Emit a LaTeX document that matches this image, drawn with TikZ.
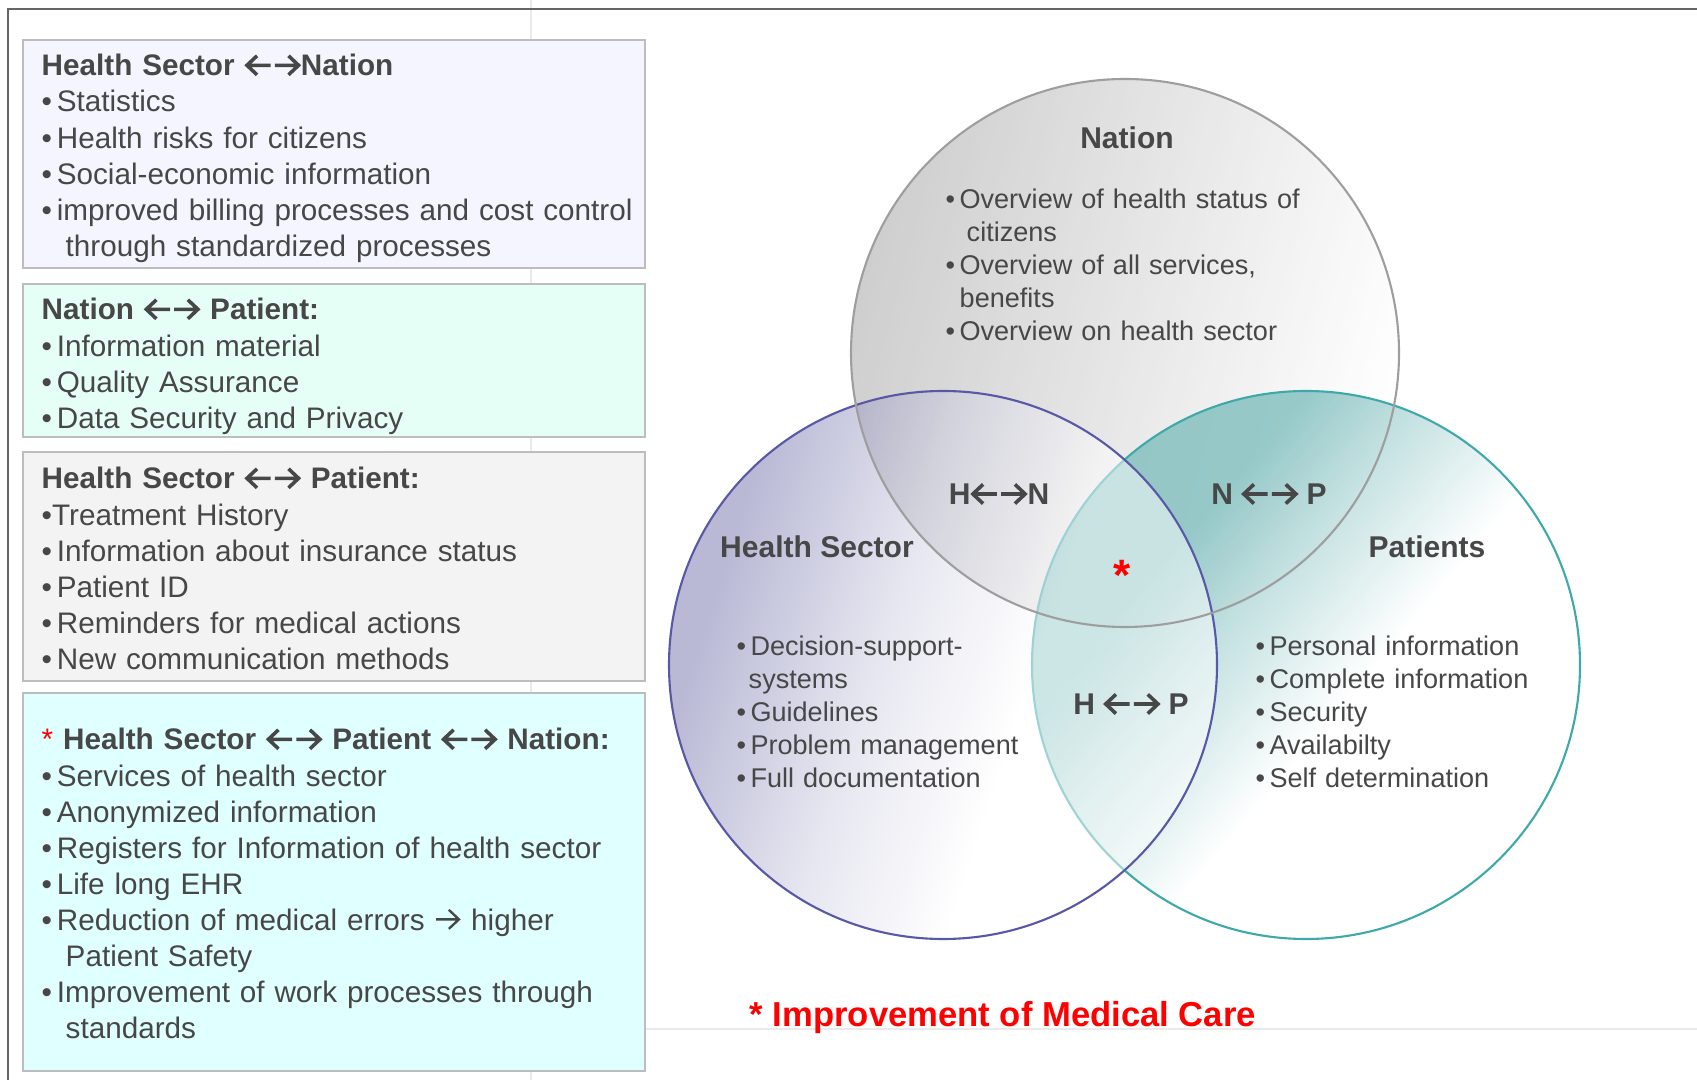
\documentclass[tikz,border=0pt]{standalone}
\usepackage{fontspec}
\setmainfont{Liberation Sans}
\definecolor{txt}{HTML}{474747}
\definecolor{framegray}{HTML}{666666}
\definecolor{boxgray}{HTML}{BDBDBD}
\definecolor{faint}{HTML}{EAEAEA}
\definecolor{lav}{HTML}{F5F5FF}
\definecolor{mint}{HTML}{E5FFF7}
\definecolor{pale}{HTML}{F3F3F3}
\definecolor{aqua}{HTML}{E0FFFF}
\definecolor{natfill}{HTML}{BEBEBE}
\definecolor{natline}{HTML}{9E9E9E}
\definecolor{hsfill}{HTML}{5A5A9E}
\definecolor{hsline}{HTML}{5858A6}
\definecolor{ptfill}{HTML}{7FBEBE}
\definecolor{ptline}{HTML}{3FA9A9}
\definecolor{medred}{HTML}{FF0000}
% fades of the two lower rings, strong at the upper left rim
\pgfdeclareverticalshading{hsfade}{100bp}{color(0bp)=(white); color(42bp)=(white);
  color(56bp)=(hsfill!30!white); color(72bp)=(hsfill!85!white); color(100bp)=(hsfill!85!white)}
\pgfdeclareverticalshading{ptfade}{100bp}{color(0bp)=(white); color(45bp)=(white);
  color(58bp)=(ptfill!60!white); color(66bp)=(ptfill); color(100bp)=(ptfill)}
% bullet with a tight gap, and the drawn arrows of the slide
\newcommand{\itm}{•\hspace{0.16em}}
\newcommand{\lr}[1][0.12em]{\tikz[baseline=0pt,x=1em,y=1em,line width=#1,draw=txt]{%
  \useasboundingbox (0,0) rectangle (1.9,0.72);
  \draw (0.42,0.68) -- (0.08,0.36) -- (0.42,0.04) (0.08,0.36) -- (0.88,0.36);
  \draw (1.02,0.36) -- (1.82,0.36) (1.48,0.68) -- (1.82,0.36) -- (1.48,0.04);}}
\newcommand{\ra}{\tikz[baseline=0pt,x=1em,y=1em,line width=0.08em,draw=txt]{%
  \useasboundingbox (0,0) rectangle (0.9,0.72);
  \draw (0.05,0.36) -- (0.82,0.36) (0.48,0.68) -- (0.82,0.36) -- (0.48,0.04);}}

\begin{document}
\begin{tikzpicture}[x=0.01cm,y=-0.01cm,
  every node/.style={inner sep=0pt,text=txt},
  box/.style={draw=boxgray,line width=0.6pt},
  boxtext/.style={anchor=base west,align=left,text width=8cm,font=\fontsize{8.44pt}{10.24pt}\selectfont},
  ringtext/.style={anchor=base west,align=left,text width=5cm,font=\fontsize{7.7pt}{9.35pt}\selectfont},
  ringlabel/.style={font=\fontsize{8.54pt}{10.24pt}\selectfont\bfseries}]
\useasboundingbox (0,0) rectangle (1697,1080);
% faint slide guides and frame
\draw[faint,line width=0.3pt] (531,0) -- (531,1080) (645,1029) -- (1697,1029);
\draw[framegray,line width=0.6pt] (1697,9) -- (8,9) -- (8,1080);
% left boxes
\draw[box,fill=lav] (23,40) rectangle (645,268);
\draw[box,fill=mint] (23,284) rectangle (645,437);
\draw[box,fill=pale] (23,452) rectangle (645,681);
\draw[box,fill=aqua] (23,693) rectangle (645,1071);
\node[boxtext] (hn) at (41,76) {\textbf{Health Sector {\lr}Nation}\\
  \itm Statistics\\
  \itm Health risks for citizens\\
  \itm Social-economic information\\
  \itm improved billing processes and cost control\\
  \hspace*{0.24cm}through standardized processes};
\node[boxtext] (np) at (41,320) {\textbf{Nation {\lr} Patient:}\\
  \itm Information material\\
  \itm Quality Assurance\\
  \itm Data Security and Privacy};
\node[boxtext] (hp) at (41,489) {\textbf{Health Sector {\lr} Patient:}\\
  •Treatment History\\
  \itm Information about insurance status\\
  \itm Patient ID\\
  \itm Reminders for medical actions\\
  \itm New communication methods};
\node[boxtext] (hpn) at (41,750) {\textcolor{medred}{*} \textbf{Health Sector {\lr} Patient {\lr} Nation:}\\
  \itm Services of health sector\\
  \itm Anonymized information\\
  \itm Registers for Information of health sector\\
  \itm Life long EHR\\
  \itm Reduction of medical errors {\ra} higher\\
  \hspace*{0.24cm}Patient Safety\\
  \itm Improvement of work processes through\\
  \hspace*{0.24cm}standards};
% venn rings
\coordinate (nation) at (1125,353);
\coordinate (health) at (943,665);
\coordinate (patients) at (1306,665);
\shade[top color=natfill,middle color=natfill!45!white,bottom color=white,shading angle=75,fill opacity=0.75] (nation) circle[radius=274];
\shade[shading=ptfade,shading angle=50,fill opacity=0.8] (patients) circle[radius=274];
\draw[ptline,line width=0.6pt] (patients) circle[radius=274];
\shade[shading=hsfade,shading angle=72,fill opacity=0.5] (health) circle[radius=274];
\draw[hsline,line width=0.6pt] (health) circle[radius=274];
\draw[natline,line width=0.6pt] (nation) circle[radius=274];
% ring labels
\node[ringlabel] (nlabel) at (1127,138) {Nation};
\node[ringlabel] (hlabel) at (817,547) {Health Sector};
\node[ringlabel] (plabel) at (1427,547) {Patients};
\node[ringlabel] (hnx) at (999,494) {H{\lr}N};
\node[ringlabel] (npx) at (1269,494) {N {\lr} P};
\node[ringlabel] (hpx) at (1131,704) {H {\lr} P};
\node[anchor=base,text=medred,font=\fontsize{12.5pt}{14pt}\selectfont\bfseries] (core) at (1122,591) {*};
\node[ringtext] (nitems) at (945,209) {\itm Overview of health status of\\
  \hspace*{0.21cm}citizens\\
  \itm Overview of all services,\\
  \hspace*{0.14cm}benefits\\
  \itm Overview on health sector};
\node[ringtext] (hitems) at (736,656) {\itm Decision-support-\\
  \hspace*{0.12cm}systems\\
  \itm Guidelines\\
  \itm Problem management\\
  \itm Full documentation};
\node[ringtext] (pitems) at (1255,656) {\itm Personal information\\
  \itm Complete information\\
  \itm Security\\
  \itm Availabilty\\
  \itm Self determination};
\node[anchor=base west,text=medred,font=\fontsize{9.85pt}{12pt}\selectfont\bfseries] (care) at (749,1027) {* Improvement of Medical Care};
\end{tikzpicture}
\end{document}
